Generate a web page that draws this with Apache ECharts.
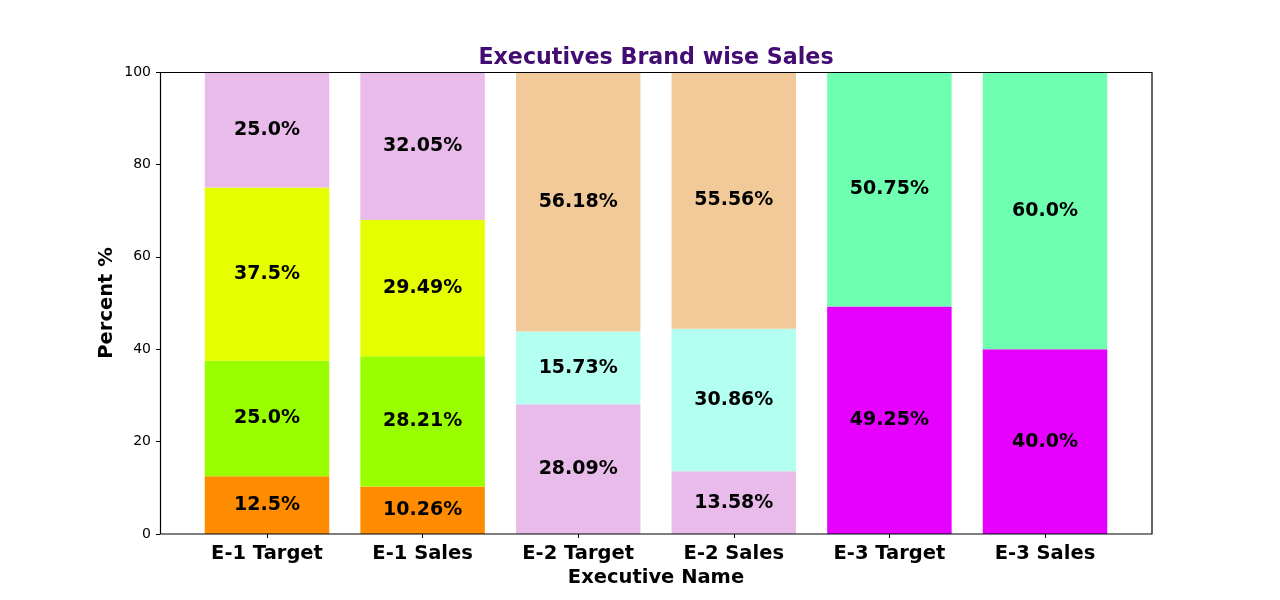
<!DOCTYPE html>
<html>
<head>
<meta charset="utf-8">
<script src="https://cdn.jsdelivr.net/npm/echarts@6/dist/echarts.min.js"></script>
<style>html,body{margin:0;padding:0;background:#fff}#c{width:1280px;height:600px}</style>
</head>
<body>
<div id="c"></div>
<script>
var categories = ['E-1 Target', 'E-1 Sales', 'E-2 Target', 'E-2 Sales', 'E-3 Target', 'E-3 Sales'];
var yTicks = [0, 20, 40, 60, 80, 100];
var brandA = [12.5, 10.26, '-', '-', '-', '-'];
var brandB = [25.0, 28.21, '-', '-', '-', '-'];
var brandC = [37.5, 29.49, '-', '-', '-', '-'];
var brandD = [25.0, 32.05, 28.09, 13.58, '-', '-'];
var brandE = ['-', '-', 15.73, 30.86, '-', '-'];
var brandF = ['-', '-', 56.18, 55.56, '-', '-'];
var brandG = ['-', '-', '-', '-', 49.25, 40.0];
var brandH = ['-', '-', '-', '-', 50.75, 60.0];
var brandColors = ['#FF8C00', '#99FF00', '#E5FF00', '#E8BBEB', '#B3FFF0', '#F2CA99', '#E600FF', '#6EFFB0'];
var brandData = [brandA, brandB, brandC, brandD, brandE, brandF, brandG, brandH];

var font = 'DejaVu Sans';
function fmt(v) {
  return (Number.isInteger(v) ? v.toFixed(1) : String(v)) + '%';
}
var series = brandData.map(function (d, i) {
  return {
    type: 'bar',
    name: 'Brand ' + (i + 1),
    stack: 'total',
    xAxisIndex: 1,
    yAxisIndex: 1,
    barWidth: '80%',
    data: d,
    itemStyle: { color: brandColors[i] },
    label: {
      show: true,
      position: 'inside',
      color: '#000',
      fontFamily: font,
      fontWeight: 'bold',
      fontSize: 19,
      formatter: function (p) { return fmt(p.value); }
    }
  };
});

var chart = echarts.init(document.getElementById('c'), null, { renderer: 'canvas' });
chart.setOption({
  animation: false,
  backgroundColor: '#fff',
  title: {
    text: 'Executives Brand wise Sales',
    left: 651,
    textAlign: 'center',
    top: 42,
    textStyle: { color: '#420C73', fontFamily: font, fontWeight: 'bold', fontSize: 22.2 }
  },
  grid: [
    { left: 160.5, top: 72.5, width: 991.5, height: 461.5, show: true, borderColor: '#000', borderWidth: 1.2, backgroundColor: 'transparent', z: 10 },
    { left: 189.2, top: 72, width: 933.6, height: 462 }
  ],
  xAxis: [
    { gridIndex: 0, type: 'value', show: false, min: 0, max: 1 },
    {
      gridIndex: 1,
      type: 'category',
      data: categories,
      name: 'Executive Name',
      nameLocation: 'middle',
      nameGap: 34,
      nameMoveOverlap: false,
      nameTextStyle: { color: '#000', fontFamily: font, fontWeight: 'bold', fontSize: 19.5 },
      axisLine: { show: false },
      axisTick: { show: true, alignWithLabel: true, length: 4, lineStyle: { color: '#000' } },
      axisLabel: { color: '#000', fontFamily: font, fontWeight: 'bold', fontSize: 19.5, margin: 10 },
      splitLine: { show: false }
    }
  ],
  yAxis: [
    { gridIndex: 0, type: 'value', show: false, min: 0, max: 1 },
    {
      gridIndex: 1,
      type: 'value',
      min: yTicks[0],
      max: yTicks[yTicks.length - 1],
      interval: 20,
      offset: 29.2,
      name: 'Percent %',
      nameLocation: 'middle',
      nameGap: 43,
      nameMoveOverlap: false,
      nameTextStyle: { color: '#000', fontFamily: font, fontWeight: 'bold', fontSize: 19.5 },
      axisLine: { show: false },
      axisTick: { show: true, length: 4, lineStyle: { color: '#000' } },
      axisLabel: { color: '#000', fontFamily: font, fontSize: 14, margin: 9 },
      splitLine: { show: false }
    }
  ],
  series: series
});
</script>
</body>
</html>
